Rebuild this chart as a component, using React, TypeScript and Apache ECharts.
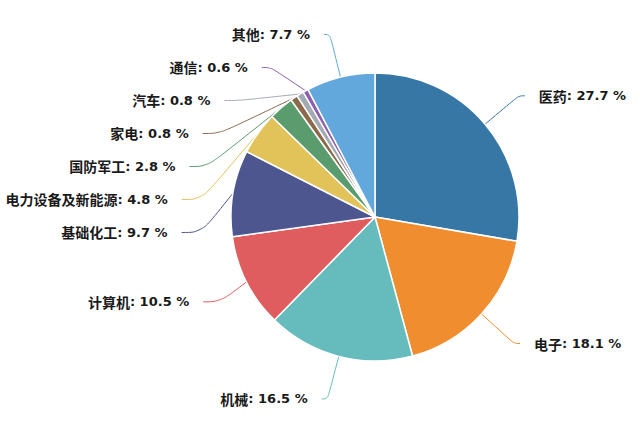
import { useEffect, useRef } from "react";
import * as echarts from "echarts";

const names = ["医药", "电子", "机械", "计算机", "基础化工", "电力设备及新能源", "国防军工", "家电", "汽车", "通信", "其他"];
const values = [27.7, 18.1, 16.5, 10.5, 9.7, 4.8, 2.8, 0.8, 0.8, 0.6, 7.7];
const colors = ["#3777a6", "#f08d2e", "#66bcbc", "#df5c5f", "#4e5690", "#e2c35a", "#5a9c6e", "#8b6a4c", "#a3aab3", "#8c5fb0", "#63a8dc"];

// horizontal part of each label line (left-side labels sit further out)
const lineLen2 = [6, 6, 6, 17, 20, 20, 18, 17, 15, 9, 6];

export default function App() {
    const chartRef = useRef<HTMLDivElement>(null);

    useEffect(() => {
        if (!chartRef.current) return;
        const chart = echarts.init(chartRef.current, null, { renderer: "svg" });

        chart.setOption({
            animation: false,
            color: colors,
            series: [
                {
                    type: "pie",
                    center: [375, 217],
                    radius: 144,
                    startAngle: 90,
                    itemStyle: { borderColor: "#ffffff", borderWidth: 1.5 },
                    label: {
                        formatter: (p: any) => `{n|${p.name}}{v|: ${p.value} %}`,
                        lineHeight: 31,
                        distanceToLabelLine: 14,
                        overflow: "none",
                        rich: {
                            n: {
                                fontSize: 14,
                                fontWeight: "bold",
                                color: "#1a1a1a",
                                fontFamily: "'Noto Sans CJK SC', sans-serif",
                                lineHeight: 31,
                            },
                            v: {
                                fontSize: 13,
                                fontWeight: "bold",
                                color: "#1a1a1a",
                                fontFamily: "'DejaVu Sans', sans-serif",
                                lineHeight: 31,
                            },
                        },
                    },
                    labelLine: { length: 44, length2: 6, smooth: 0.4 },
                    data: names.map((name, i) => ({
                        name,
                        value: values[i],
                        labelLine: { length2: lineLen2[i] },
                    })),
                },
            ],
        });

        return () => chart.dispose();
    }, []);

    return (
        <div
            ref={chartRef}
            style={{ position: "absolute", left: 0, top: 0, width: 640, height: 421 }}
        />
    );
}
